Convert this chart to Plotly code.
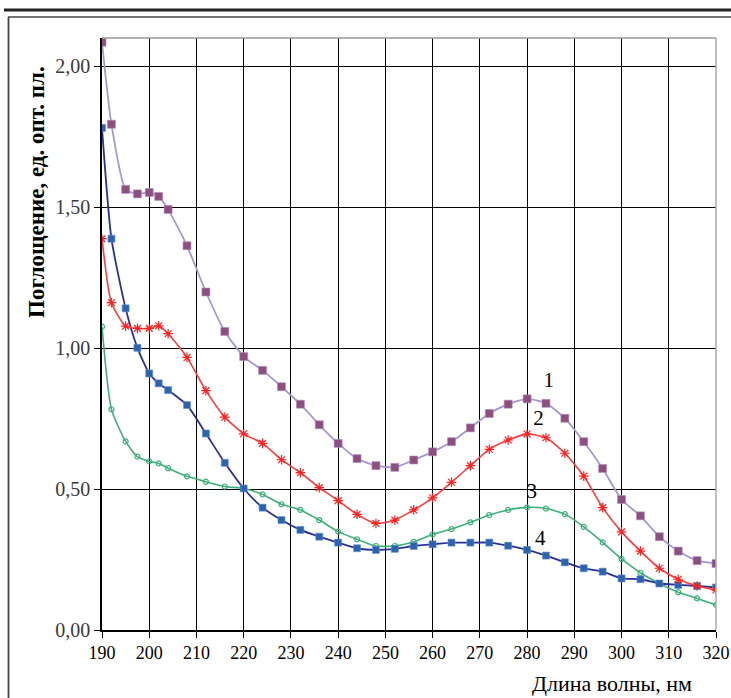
import plotly.graph_objects as go

wavelength = [190, 192, 195, 197.5, 200, 202, 204, 208, 212, 216, 220, 224, 228, 232, 236, 240,
              244, 248, 252, 256, 260, 264, 268, 272, 276, 280, 284, 288, 292, 296, 300, 304,
              308, 312, 316, 320]

curve1 = [2.085, 1.794, 1.563, 1.547, 1.552, 1.538, 1.492, 1.363, 1.199, 1.059, 0.970, 0.921, 0.863,
          0.801, 0.728, 0.662, 0.608, 0.583, 0.577, 0.603, 0.632, 0.668, 0.717, 0.768, 0.801, 0.820,
          0.804, 0.751, 0.668, 0.573, 0.463, 0.405, 0.331, 0.280, 0.246, 0.236]
curve2 = [1.388, 1.161, 1.078, 1.070, 1.070, 1.079, 1.051, 0.967, 0.849, 0.755, 0.696, 0.662, 0.604,
          0.558, 0.505, 0.459, 0.410, 0.378, 0.390, 0.426, 0.469, 0.524, 0.583, 0.641, 0.674, 0.695,
          0.682, 0.627, 0.546, 0.434, 0.348, 0.280, 0.219, 0.180, 0.156, 0.142]
curve3 = [1.076, 0.783, 0.669, 0.615, 0.598, 0.591, 0.574, 0.545, 0.526, 0.509, 0.502, 0.481, 0.446,
          0.426, 0.390, 0.349, 0.322, 0.298, 0.298, 0.313, 0.339, 0.358, 0.382, 0.408, 0.426, 0.435,
          0.431, 0.411, 0.366, 0.311, 0.252, 0.203, 0.165, 0.134, 0.112, 0.089]
curve4 = [1.781, 1.388, 1.141, 1.001, 0.910, 0.875, 0.851, 0.798, 0.697, 0.593, 0.502, 0.434, 0.390,
          0.355, 0.331, 0.310, 0.290, 0.284, 0.288, 0.298, 0.304, 0.310, 0.310, 0.310, 0.299, 0.284,
          0.264, 0.240, 0.219, 0.207, 0.183, 0.180, 0.165, 0.160, 0.156, 0.151]

x_ticks = list(range(190, 321, 10))
y_ticks = [0, 0.5, 1.0, 1.5, 2.0]
y_tick_labels = ["0,00", "0,50", "1,00", "1,50", "2,00"]

curve_labels = ["1", "2", "3", "4"]
label_x = [284.6, 282.4, 281.0, 282.8]
label_y = [0.879, 0.745, 0.486, 0.319]

SERIF = "Liberation Serif, Times New Roman, serif"

fig = go.Figure()

fig.add_trace(go.Scatter(
    x=wavelength, y=curve3, mode="lines+markers",
    line=dict(color="#3db07a", width=1.6, shape="spline", smoothing=0.6),
    marker=dict(symbol="circle-open", size=5, color="#3db07a", line=dict(width=1.2)),
    showlegend=False))
fig.add_trace(go.Scatter(
    x=wavelength, y=curve4, mode="lines+markers",
    line=dict(color="#2b2f99", width=1.8, shape="spline", smoothing=0.6),
    marker=dict(symbol="square", size=7, color="#2a64b0", line=dict(width=0.6, color="#6a8fc8")),
    showlegend=False))
fig.add_trace(go.Scatter(
    x=wavelength, y=curve2, mode="lines+markers",
    line=dict(color="#ff3b3b", width=1.6, shape="spline", smoothing=0.6),
    marker=dict(symbol="asterisk-open", size=8, color="#ff2020", line=dict(width=1.2, color="#ff2020")),
    showlegend=False))
fig.add_trace(go.Scatter(
    x=wavelength, y=curve1, mode="lines+markers",
    line=dict(color="#a797cf", width=1.8, shape="spline", smoothing=0.6),
    marker=dict(symbol="square", size=8, color="#8c4f80", line=dict(width=0.6, color="#b090c0")),
    showlegend=False))

fig.add_trace(go.Scatter(
    x=label_x, y=label_y, mode="text", text=curve_labels,
    textfont=dict(family=SERIF, size=21, color="black"),
    showlegend=False, hoverinfo="skip"))

fig.update_layout(
    width=731, height=698,
    margin=dict(l=102, r=15, t=38, b=68, autoexpand=False),
    paper_bgcolor="white", plot_bgcolor="white",
    font=dict(family=SERIF, color="black"),
    xaxis=dict(
        range=[190, 320], tickvals=x_ticks, ticktext=[str(v) for v in x_ticks],
        showgrid=True, gridcolor="black", gridwidth=1.3,
        showline=True, linecolor="black", linewidth=1.5,
        ticks="outside", ticklen=6, tickcolor="black", tickwidth=1.3,
        tickfont=dict(family=SERIF, size=18, color="black"),
        zeroline=False, mirror=False, automargin=False),
    yaxis=dict(
        range=[0, 2.1], tickvals=y_ticks, ticktext=y_tick_labels,
        showgrid=True, gridcolor="black", gridwidth=1.3,
        showline=True, linecolor="black", linewidth=1.5,
        ticks="outside", ticklen=6, tickcolor="black", tickwidth=1.3,
        tickfont=dict(family=SERIF, size=20, color="#3a3a3a"),
        zeroline=False, automargin=False),
)

# plot frame top / right (grey)
fig.add_shape(type="line", xref="paper", yref="paper", x0=0, x1=1, y0=1, y1=1,
              line=dict(color="#999999", width=1.5))
fig.add_shape(type="line", xref="paper", yref="paper", x0=1, x1=1, y0=0, y1=1,
              line=dict(color="#aaaaaa", width=1.5))

# outer decorative frame (pixel -> paper conversion)
def px_x(p):
    return (p - 102) / 614.0

def px_y(p):
    return (630 - p) / 592.0

fig.add_shape(type="line", xref="paper", yref="paper",
              x0=px_x(4), x1=px_x(731), y0=px_y(10), y1=px_y(10),
              line=dict(color="#222222", width=3))
fig.add_shape(type="line", xref="paper", yref="paper",
              x0=px_x(8), x1=px_x(731), y0=px_y(17), y1=px_y(17),
              line=dict(color="#444444", width=1.5))
fig.add_shape(type="line", xref="paper", yref="paper",
              x0=px_x(8.5), x1=px_x(8.5), y0=px_y(17), y1=px_y(698),
              line=dict(color="#444444", width=1.8))

fig.add_annotation(xref="paper", yref="paper", x=px_x(612), y=px_y(683),
                   text="Длина волны, нм", showarrow=False,
                   font=dict(family=SERIF, size=22, color="black"),
                   xanchor="center", yanchor="middle")
fig.add_annotation(xref="paper", yref="paper", x=px_x(37), y=px_y(192),
                   text="<b>Поглощение, ед. опт. пл.</b>", showarrow=False, textangle=-90,
                   font=dict(family=SERIF, size=23, color="black"),
                   xanchor="center", yanchor="middle")

fig.write_html("out.html", config={"displayModeBar": False},
               post_script="document.body.style.margin='0px';")
